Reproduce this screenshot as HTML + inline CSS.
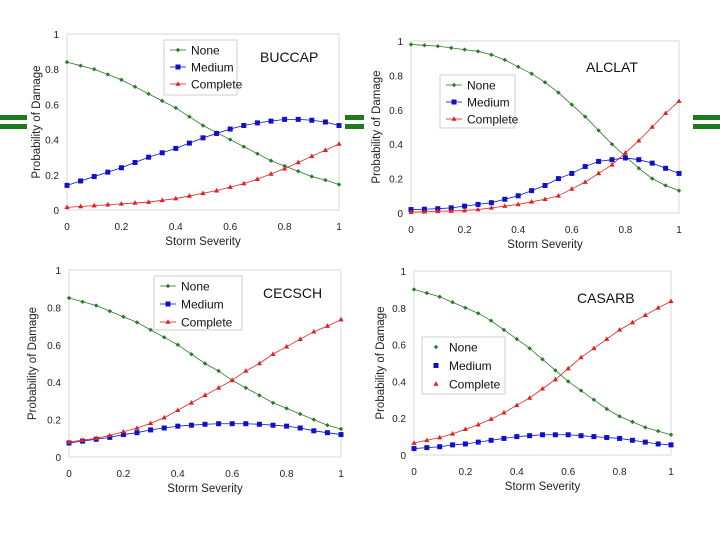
<!DOCTYPE html>
<html><head><meta charset="utf-8"><style>
html,body{margin:0;padding:0;background:#fff;width:720px;height:540px;overflow:hidden}
svg{font-family:"Liberation Sans",Arial,sans-serif}
</style></head><body>
<svg id="s" width="720" height="540" xmlns="http://www.w3.org/2000/svg">
<g><rect x="0" y="115" width="27" height="5" fill="#1e7a1e"/><rect x="0" y="124" width="27" height="5" fill="#1e7a1e"/></g>
<g><rect x="345" y="115" width="19" height="5" fill="#1e7a1e"/><rect x="345" y="124" width="19" height="5" fill="#1e7a1e"/></g>
<g><rect x="693" y="115" width="27" height="5" fill="#1e7a1e"/><rect x="693" y="124" width="27" height="5" fill="#1e7a1e"/></g>
</svg>
<script>
const xTicks=[0,0.2,0.4,0.6,0.8,1];
const yTicks=[0,0.2,0.4,0.6,0.8,1];
const severity=[0,0.05,0.1,0.15,0.2,0.25,0.3,0.35,0.4,0.45,0.5,0.55,0.6,0.65,0.7,0.75,0.8,0.85,0.9,0.95,1];
const buccapNone=[.84,.82,.80,.77,.74,.70,.66,.62,.58,.53,.48,.44,.40,.36,.32,.28,.25,.22,.19,.17,.145];
const buccapMedium=[.14,.165,.19,.215,.24,.27,.30,.325,.35,.38,.41,.435,.46,.48,.495,.505,.515,.515,.51,.50,.48];
const buccapComplete=[.015,.02,.025,.03,.035,.04,.045,.055,.065,.08,.095,.11,.13,.15,.175,.205,.235,.27,.305,.34,.375];
const alclatNone=[.98,.975,.97,.96,.95,.94,.92,.89,.85,.81,.76,.70,.63,.56,.48,.40,.33,.26,.20,.16,.13];
const alclatMedium=[.02,.022,.025,.03,.04,.05,.06,.08,.10,.13,.16,.20,.23,.27,.30,.31,.32,.31,.29,.26,.23];
const alclatComplete=[.005,.007,.01,.012,.015,.02,.03,.04,.05,.065,.08,.10,.14,.18,.23,.28,.35,.42,.50,.58,.65];
const cecschNone=[.85,.83,.81,.78,.75,.72,.68,.64,.60,.55,.50,.46,.41,.37,.33,.29,.26,.23,.20,.17,.15];
const cecschMedium=[.075,.085,.095,.105,.12,.13,.145,.155,.165,.17,.175,.178,.178,.178,.175,.17,.165,.155,.14,.13,.12];
const cecschComplete=[.08,.09,.10,.115,.135,.155,.18,.21,.25,.29,.33,.37,.41,.46,.50,.55,.59,.63,.67,.70,.735];
const casarbNone=[.90,.88,.86,.83,.80,.77,.73,.68,.63,.58,.52,.46,.40,.35,.30,.25,.21,.18,.15,.13,.11];
const casarbMedium=[.035,.04,.045,.055,.06,.07,.08,.09,.10,.105,.11,.11,.11,.105,.10,.095,.09,.08,.07,.06,.055];
const casarbComplete=[.065,.08,.095,.115,.14,.165,.195,.23,.27,.31,.36,.41,.47,.53,.58,.63,.68,.72,.76,.80,.835];
const seriesNames=["None","Medium","Complete"];

const NS="http://www.w3.org/2000/svg";
const svg=document.getElementById('s');
const COL={None:"#2a7a2a",Medium:"#1010c8",Complete:"#dd2222"};
function mk(tag,attrs,parent){const e=document.createElementNS(NS,tag);for(const k in attrs)e.setAttribute(k,attrs[k]);parent.appendChild(e);return e;}
function marker(name,x,y,g){
  if(name==="None") return mk('path',{d:`M${x},${y-2.2}L${x+2.2},${y}L${x},${y+2.2}L${x-2.2},${y}Z`,fill:COL.None},g);
  if(name==="Medium") return mk('rect',{x:x-2.5,y:y-2.5,width:5,height:5,fill:COL.Medium},g);
  return mk('path',{d:`M${x},${y-2.8}L${x+2.6},${y+1.8}L${x-2.6},${y+1.8}Z`,fill:COL.Complete},g);
}
function drawChart(c){
  const g=mk('g',{},svg);
  
  
  const sx=v=>c.x0+(c.x1-c.x0)*v, sy=v=>c.y0-(c.y0-c.y1)*v;
  const frame=mk('rect',{x:c.x0,y:c.y1,width:c.x1-c.x0,height:c.y0-c.y1,fill:"#fff",stroke:"#d8d8d8","stroke-width":1},g);
  
  
  yTicks.forEach(t=>{const e=mk('text',{x:c.x0-8,y:sy(t)+4,"text-anchor":"end","font-size":10,fill:"#222"},g);e.textContent=String(t);
    
    });
  xTicks.forEach(t=>{const e=mk('text',{x:sx(t),y:c.y0+20,"text-anchor":"middle","font-size":10,fill:"#222"},g);e.textContent=String(t);
    
    });
  const xt=mk('text',{x:(c.x0+c.x1)/2,y:c.y0+35,"text-anchor":"middle","font-size":11.5,fill:"#222"},g);xt.textContent="Storm Severity";
  
  
  const ym=(c.y0+c.y1)/2;
  const yt=mk('text',{x:c.ytx,y:ym,"text-anchor":"middle","font-size":11.5,fill:"#222",transform:`rotate(-90 ${c.ytx} ${ym})`},g);yt.textContent="Probability of Damage";
  
  
  seriesNames.forEach((n,i)=>{
    const vals=c.data[i];
    const sg=mk('g',{},g);
    
    
    mk('polyline',{points:severity.map((s,j)=>sx(s)+","+sy(vals[j])).join(" "),fill:"none",stroke:COL[n],"stroke-width":0.8},sg);
    severity.forEach((s,j)=>{const m=marker(n,sx(s),sy(vals[j]),sg);
      
      });
  });
  const L=c.leg;
  const lg=mk('g',{},g);
  
  
  mk('rect',{x:L.x,y:L.y,width:L.w,height:L.h,fill:"#fff",stroke:"#cfcfcf","stroke-width":1},lg);
  seriesNames.forEach((n,i)=>{
    const yy=L.y+10+i*L.step;
    if(c.lines!==false) mk('line',{x1:L.x+6,y1:yy,x2:L.x+22,y2:yy,stroke:COL[n],"stroke-width":0.8},lg);
    marker(n,L.x+14,yy,lg);
    const t=mk('text',{x:L.x+27,y:yy+4.5,"font-size":12,fill:"#111"},lg);t.textContent=n;
    
    
  });
  const ti=mk('text',{x:c.tx,y:c.ty,"font-size":14,fill:"#111"},g);ti.textContent=c.id;
  
  
}
drawChart({id:"BUCCAP",x0:67,x1:339,y0:210,y1:34,ytx:40,data:[buccapNone,buccapMedium,buccapComplete],leg:{x:164,y:40,w:73,h:55,step:17},tx:260,ty:62});
drawChart({id:"ALCLAT",x0:411,x1:679,y0:213,y1:41,ytx:380,data:[alclatNone,alclatMedium,alclatComplete],leg:{x:440,y:75,w:75,h:53,step:17},tx:586,ty:72});
drawChart({id:"CECSCH",x0:69,x1:341,y0:457,y1:270,ytx:36,data:[cecschNone,cecschMedium,cecschComplete],leg:{x:154,y:276,w:88,h:54,step:18},tx:263,ty:298});
drawChart({id:"CASARB",x0:414,x1:671,y0:455,y1:271,ytx:384,data:[casarbNone,casarbMedium,casarbComplete],leg:{x:422,y:337,w:83,h:57,step:18.5},tx:577,ty:303,lines:false});
</script>
</body></html>
